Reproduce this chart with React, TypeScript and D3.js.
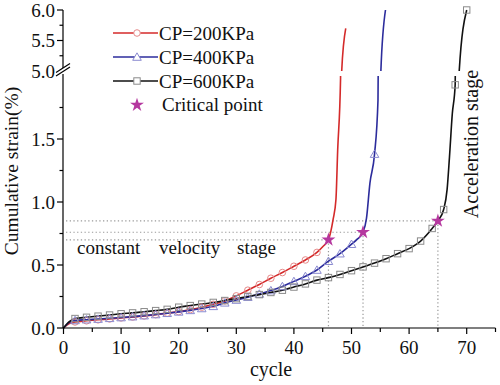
import React from "react";
import * as d3 from "d3";

// ---- data ----
const redCycles = [0, 1, 2, 4, 6, 8, 10, 12, 14, 16, 18, 20, 22, 24, 26, 28, 30, 32, 34, 36, 38, 40, 42, 44, 45, 46, 46.8, 47.3, 47.6, 48.1, 48.3, 49.0];
const redStrain = [0, 0.035, 0.048, 0.057, 0.065, 0.072, 0.08, 0.087, 0.096, 0.106, 0.118, 0.13, 0.146, 0.165, 0.188, 0.215, 0.255, 0.3, 0.345, 0.395, 0.44, 0.49, 0.54, 0.6, 0.645, 0.7, 0.86, 1.02, 1.41, 1.98, 5.0, 5.7];
const redMarkers = [2, 4, 6, 8, 10, 12, 14, 16, 18, 20, 22, 24, 26, 28, 30, 32, 34, 36, 38, 40, 42, 44];

const blueCycles = [0, 1, 2, 4, 6, 8, 10, 12, 14, 16, 18, 20, 22, 24, 26, 28, 30, 32, 34, 36, 38, 40, 42, 44, 46, 48, 50, 51, 52, 52.6, 53.2, 54, 54.6, 55.1, 55.9];
const blueStrain = [0, 0.045, 0.06, 0.066, 0.071, 0.077, 0.083, 0.09, 0.098, 0.107, 0.117, 0.128, 0.14, 0.155, 0.172, 0.2, 0.222, 0.245, 0.27, 0.297, 0.33, 0.37, 0.41, 0.46, 0.53, 0.59, 0.665, 0.705, 0.76, 0.87, 1.15, 1.38, 1.81, 5.0, 6.0];
const blueMarkers = [2, 4, 6, 8, 10, 12, 14, 16, 18, 20, 22, 24, 26, 28, 30, 32, 34, 36, 38, 40, 42, 44, 46, 48, 50, 54];

const blackCycles = [0, 1, 2, 4, 6, 8, 10, 12, 14, 16, 18, 20, 22, 24, 26, 28, 30, 32, 34, 36, 38, 40, 42, 44, 46, 48, 50, 52, 54, 56, 58, 60, 62, 64, 65, 66, 66.6, 67, 67.5, 68, 68.7, 70];
const blackStrain = [0, 0.05, 0.075, 0.085, 0.094, 0.103, 0.113, 0.12, 0.129, 0.138, 0.148, 0.165, 0.178, 0.19, 0.203, 0.218, 0.233, 0.25, 0.265, 0.282, 0.3, 0.325, 0.35, 0.38, 0.4, 0.425, 0.455, 0.485, 0.515, 0.55, 0.59, 0.63, 0.69, 0.79, 0.85, 0.94, 1.1, 1.35, 1.7, 1.93, 5.0, 6.0];
const blackMarkers = [2, 4, 6, 8, 10, 12, 14, 16, 18, 20, 22, 24, 26, 28, 30, 32, 34, 36, 38, 40, 42, 44, 46, 48, 50, 52, 54, 56, 58, 60, 62, 64, 66, 68, 70];

const criticalCycles = [46, 52, 65];
const criticalStrain = [0.7, 0.76, 0.85];

const seriesNames = ["CP=200KPa", "CP=400KPa", "CP=600KPa"];
const xTicks = [0, 10, 20, 30, 40, 50, 60, 70];
const xMinor = [5, 15, 25, 35, 45, 55, 65, 75];
const yLowTicks = [0, 0.5, 1.0, 1.5];
const yLowMinor = [0.25, 0.75, 1.25, 1.75];
const yHighTicks = [5.0, 5.5, 6.0];
const yHighMinor = [5.25, 5.75];

// ---- layout ----
const W = 500, H = 385;
const FONT = "Liberation Serif, Times New Roman, Times, DejaVu Serif, serif";
const x = d3.scaleLinear().domain([0, 75]).range([63.5, 495.5]);
const yLow = d3.scaleLinear().domain([0, 2]).range([328, 76]);
const yHigh = d3.scaleLinear().domain([5, 6]).range([71, 10]);
const yAny = (v: number) => (v >= 5 ? yHigh(v) : yLow(v));

const colors = ["#d42a2a", "#2c2c9c", "#111111"];
const markerColors = ["#e68a8a", "#8a8ad0", "#8a8a8a"];
const starColor = "#b5389f";

type Series = { cycles: number[]; strain: number[]; markers: number[]; kind: string };
const series: Series[] = [
  { cycles: redCycles, strain: redStrain, markers: redMarkers, kind: "circle" },
  { cycles: blueCycles, strain: blueStrain, markers: blueMarkers, kind: "triangle" },
  { cycles: blackCycles, strain: blackStrain, markers: blackMarkers, kind: "square" },
];

function Marker({ kind, cx, cy, color, fill }: { kind: string; cx: number; cy: number; color: string; fill: string }) {
  if (kind === "circle") return <circle cx={cx} cy={cy} r={3.3} fill={fill} stroke={color} strokeWidth={1} />;
  if (kind === "square") return <rect x={cx - 3.2} y={cy - 3.2} width={6.4} height={6.4} fill={fill} stroke={color} strokeWidth={1} />;
  const p = d3.symbol().type(d3.symbolTriangle).size(32)() as string;
  return <path d={p} transform={`translate(${cx},${cy + 0.8})`} fill={fill} stroke={color} strokeWidth={1} />;
}

const starPath = d3.symbol().type(d3.symbolStar).size(60)() as string;

export default function App() {
  const lineLow = d3.line<[number, number]>().x((d) => x(d[0])).y((d) => yLow(d[1])).curve(d3.curveMonotoneX);
  const lineHigh = d3.line<[number, number]>().x((d) => x(d[0])).y((d) => yHigh(d[1])).curve(d3.curveMonotoneX);

  return (
    <svg width={W} height={H} style={{ position: "absolute", left: 0, top: 0, background: "#fff", fontFamily: FONT }}>
      <defs>
        <clipPath id="clipLow"><rect x={0} y={76} width={W} height={H - 76} /></clipPath>
        <clipPath id="clipHigh"><rect x={0} y={0} width={W} height={71} /></clipPath>
      </defs>

      {/* dotted guide lines */}
      {criticalCycles.map((c, i) => (
        <g key={"g" + i} stroke="#9a9a9a" strokeWidth={1.2} strokeDasharray="1.3 2.4" fill="none">
          <line x1={66} x2={x(c)} y1={yLow(criticalStrain[i])} y2={yLow(criticalStrain[i])} />
          <line x1={x(c)} x2={x(c)} y1={yLow(criticalStrain[i])} y2={yLow(0)} />
        </g>
      ))}

      {/* series lines */}
      {series.map((s, i) => {
        const pts = s.cycles.map((c, j) => [c, s.strain[j]] as [number, number]);
        return (
          <g key={"s" + i} fill="none" stroke={colors[i]} strokeWidth={1.6}>
            <path d={lineLow(pts) as string} clipPath="url(#clipLow)" />
            <path d={lineHigh(pts) as string} clipPath="url(#clipHigh)" />
          </g>
        );
      })}

      {/* markers */}
      {series.map((s, i) => (
        <g key={"m" + i}>
          {s.markers.map((c) => {
            const v = s.strain[s.cycles.indexOf(c)];
            return <Marker key={c} kind={s.kind} cx={x(c)} cy={yAny(v)} color={markerColors[i]} fill="none" />;
          })}
        </g>
      ))}

      {/* critical stars */}
      {criticalCycles.map((c, i) => (
        <path key={"st" + i} d={starPath} transform={`translate(${x(c)},${yLow(criticalStrain[i])})`} fill={starColor} />
      ))}

      {/* axes */}
      <g stroke="#000" strokeWidth={1.2} fill="none">
        <line x1={x(0) - 0.5} x2={x(0) - 0.5} y1={yLow(0)} y2={74} />
        <line x1={x(0) - 0.5} x2={x(0) - 0.5} y1={68} y2={yHigh(6)} />
        <line x1={x(0) - 0.5} x2={x(75)} y1={yLow(0)} y2={yLow(0)} />
        <polygon points="56,76 70,67 70,63.5 56,72.5" fill="#fff" stroke="none" />
        <line x1={56} y1={76} x2={70} y2={67} />
        <line x1={56} y1={72.5} x2={70} y2={63.5} />
        {yLowTicks.map((t) => <line key={"yl" + t} x1={x(0) - 6.5} x2={x(0) - 0.5} y1={yLow(t)} y2={yLow(t)} />)}
        {yLowMinor.map((t) => <line key={"ylm" + t} x1={x(0) - 4} x2={x(0) - 0.5} y1={yLow(t)} y2={yLow(t)} />)}
        {yHighTicks.filter((t) => t > 5).map((t) => <line key={"yh" + t} x1={x(0) - 6.5} x2={x(0) - 0.5} y1={yHigh(t)} y2={yHigh(t)} />)}
        {yHighMinor.map((t) => <line key={"yhm" + t} x1={x(0) - 4} x2={x(0) - 0.5} y1={yHigh(t)} y2={yHigh(t)} />)}
        {xTicks.map((t) => <line key={"xt" + t} x1={x(t)} x2={x(t)} y1={yLow(0)} y2={yLow(0) + 6} />)}
        {xMinor.map((t) => <line key={"xm" + t} x1={x(t)} x2={x(t)} y1={yLow(0)} y2={yLow(0) + 4} />)}
      </g>

      <g fontSize={19} fill="#111" textAnchor="end">
        {yLowTicks.map((t) => <text key={"tl" + t} x={55} y={yLow(t)} dy="0.35em">{d3.format(".1f")(t)}</text>)}
        {yHighTicks.map((t) => <text key={"th" + t} x={55} y={yHigh(t)} dy="0.35em">{d3.format(".1f")(t)}</text>)}
      </g>
      <g fontSize={19} fill="#111" textAnchor="middle">
        {xTicks.map((t) => <text key={"tx" + t} x={x(t)} y={354}>{t}</text>)}
      </g>

      <text x={271} y={376} fontSize={20} textAnchor="middle" fill="#111">cycle</text>
      <text transform="translate(18,171) rotate(-90)" fontSize={19.5} textAnchor="middle" fill="#111">Cumulative strain(%)</text>
      <text transform="translate(478,144) rotate(-90)" fontSize={20} textAnchor="middle" fill="#111">Acceleration stage</text>

      <g fontSize={19} fill="#111">
        <text x={77} y={254}>constant</text>
        <text x={159} y={254}>velocity</text>
        <text x={237} y={254}>stage</text>
      </g>

      {/* legend */}
      {seriesNames.map((n, i) => {
        const ly = 33 + i * 24;
        return (
          <g key={"lg" + i}>
            <line x1={113} x2={158} y1={ly} y2={ly} stroke={colors[i]} strokeWidth={1.6} />
            <Marker kind={series[i].kind} cx={137} cy={ly} color={markerColors[i]} fill="#fff" />
            <text x={159} y={ly + 7} fontSize={19} fill="#111">{n}</text>
          </g>
        );
      })}
      <path d={starPath} transform={`translate(137,105)`} fill={starColor} />
      <text x={162} y={111} fontSize={19} fill="#111">Critical point</text>
    </svg>
  );
}
